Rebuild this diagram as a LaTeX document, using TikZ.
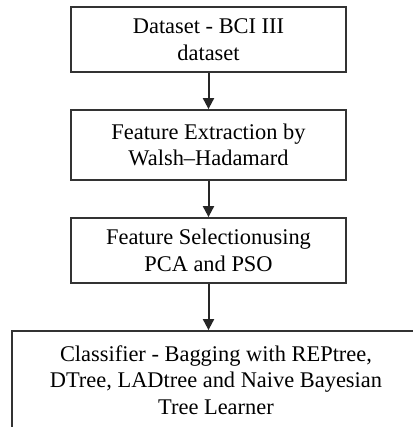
\documentclass[tikz,border=0pt]{standalone}
\usepackage{fontspec}
\setmainfont{Liberation Serif}
\usetikzlibrary{arrows.meta}
\begin{document}
\begin{tikzpicture}[x=1bp, y=-1bp, line width=1.8bp, draw=black!80,
		font=\fontsize{22.5}{26.5}\selectfont,
		stage/.style={draw=black!80, align=center, minimum width=275bp, inner sep=0pt},
		flow/.style={draw=black!85, line width=2bp, -{Triangle[length=11bp, width=11bp]}}]
		\clip (0,0) rectangle (413,427);
		\node[stage, minimum height=65bp] (data) at (208.5,39.5) {Dataset - BCI III\\ dataset};
		\node[stage, minimum height=70bp] (extract) at (208.5,145) {Feature Extraction by\\ Walsh--Hadamard};
		\node[stage, minimum height=65bp] (select) at (208.5,250.5) {Feature Selectionusing\\ PCA and PSO};
		\node[stage, minimum width=408bp, minimum height=98bp] (classify) at (216,380) {Classifier - Bagging with REPtree,\\ DTree, LADtree and Naive Bayesian\\ Tree Learner};
		\draw[flow] (data) -- (extract);
		\draw[flow] (extract) -- (select);
		\draw[flow] (select.south) -- (select.south |- classify.north);
	\end{tikzpicture}
\end{document}
